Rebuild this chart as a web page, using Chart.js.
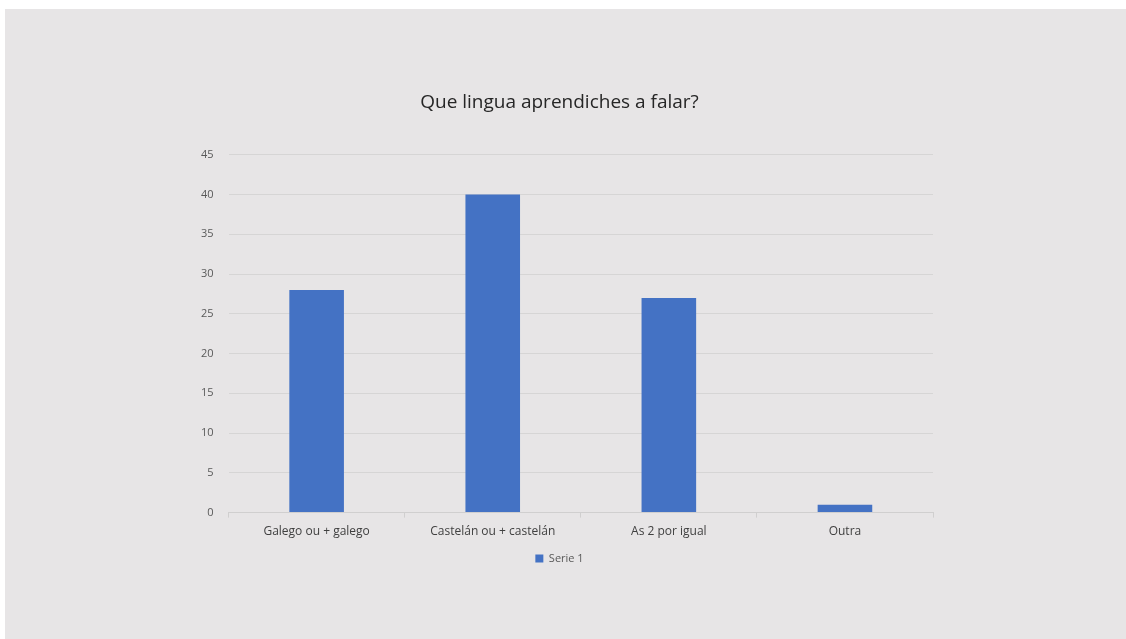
<!DOCTYPE html>
<html>
<head>
<meta charset="utf-8">
<script src="https://cdn.jsdelivr.net/npm/chart.js@4"></script>
<style>
  html, body { margin: 0; padding: 0; background: #ffffff; }
  #wrap {
    position: absolute;
    left: 5px; top: 9px;
    width: 1121px; height: 630px;
    background: #e7e5e6;
  }
</style>
</head>
<body>
<div id="wrap"><canvas id="barChart"></canvas></div>
<script>
// data
const categories = ["Galego ou + galego", "Castelán ou + castelán", "As 2 por igual", "Outra"];
const serie1 = [28, 40, 27, 1];
const seriesName = "Serie 1";
const yMin = 0;
const yMax = 45;
const yStep = 5;

const FONT = "'Open Sans', 'Noto Sans', sans-serif";

const ctx = document.getElementById("barChart").getContext("2d");

new Chart(ctx, {
  type: "bar",
  data: {
    labels: categories,
    datasets: [
      {
        label: seriesName,
        data: serie1,
        backgroundColor: "#4472c4",
        borderWidth: 0,
        categoryPercentage: 1,
        barPercentage: 0.31
      }
    ]
  },
  options: {
    responsive: true,
    maintainAspectRatio: false,
    animation: false,
    layout: {
      padding: { top: 82, bottom: 65, left: 181, right: 193 }
    },
    plugins: {
      title: {
        display: true,
        text: "Que lingua aprendiches a falar?",
        color: "#262626",
        font: { family: FONT, size: 19, weight: "normal" },
        padding: { top: 0, bottom: 41 }
      },
      legend: {
        position: "bottom",
        labels: {
          color: "#595959",
          font: { family: FONT, size: 11 },
          boxWidth: 8,
          boxHeight: 8,
          padding: 7
        }
      },
      tooltip: { enabled: false }
    },
    scales: {
      x: {
        grid: {
          offset: true,
          drawOnChartArea: false,
          drawTicks: true,
          tickLength: 5,
          color: "#d0cfcf"
        },
        border: { color: "#d0cfcf" },
        ticks: {
          color: "#404040",
          font: { family: FONT, size: 12 },
          padding: 7
        }
      },
      y: {
        min: yMin,
        max: yMax,
        ticks: {
          stepSize: yStep,
          color: "#595959",
          font: { family: FONT, size: 11 },
          padding: 15
        },
        grid: { color: "#d6d5d5", drawTicks: false },
        border: { display: false }
      }
    }
  }
});
</script>
</body>
</html>
